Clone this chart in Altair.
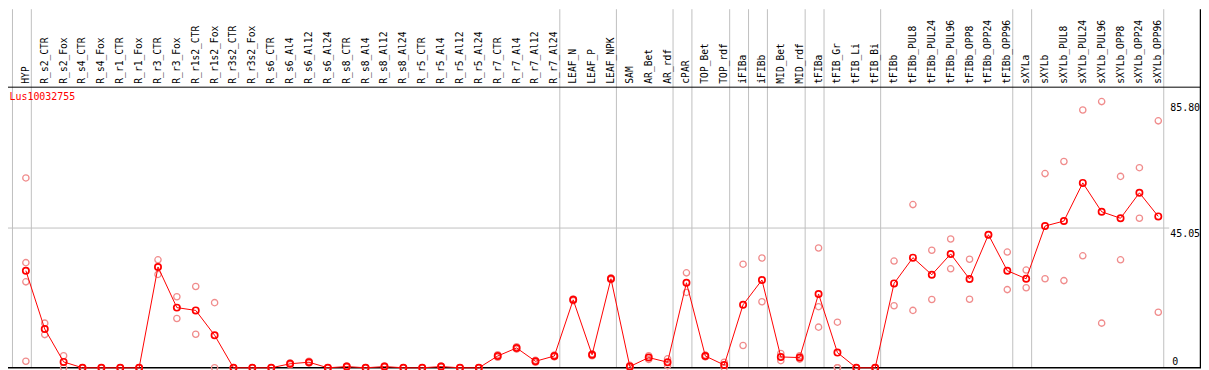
import altair as alt
import pandas as pd

# ---------------- data ----------------
categories = [
    "HYP", "R_s2_CTR", "R_s2_Fox", "R_s4_CTR", "R_s4_Fox", "R_r1_CTR", "R_r1_Fox",
    "R_r3_CTR", "R_r3_Fox", "R_r1s2_CTR", "R_r1s2_Fox", "R_r3s2_CTR", "R_r3s2_Fox",
    "R_s6_CTR", "R_s6_Al4", "R_s6_Al12", "R_s6_Al24", "R_s8_CTR", "R_s8_Al4",
    "R_s8_Al12", "R_s8_Al24", "R_r5_CTR", "R_r5_Al4", "R_r5_Al12", "R_r5_Al24",
    "R_r7_CTR", "R_r7_Al4", "R_r7_Al12", "R_r7_Al24", "LEAF_N", "LEAF_P", "LEAF_NPK",
    "SAM", "AR_Bet", "AR_rdf", "cPAR", "TOP_Bet", "TOP_rdf", "iFIBa", "iFIBb",
    "MID_Bet", "MID_rdf", "tFIBa", "tFIB_Gr", "tFIB_Li", "tFIB_Bi", "tFIBb",
    "tFIBb_PUL8", "tFIBb_PUL24", "tFIBb_PUL96", "tFIBb_OPP8", "tFIBb_OPP24",
    "tFIBb_OPP96", "sXYLa", "sXYLb", "sXYLb_PUL8", "sXYLb_PUL24", "sXYLb_PUL96",
    "sXYLb_OPP8", "sXYLb_OPP24", "sXYLb_OPP96",
]

means = [
    31.3, 12.5, 1.9, 0.0, 0.0, 0.0, 0.0,
    32.5, 19.4, 18.5, 10.5, 0.0, 0.0,
    0.0, 1.3, 1.8, 0.0, 0.4, 0.0,
    0.4, 0.0, 0.0, 0.4, 0.0, 0.0,
    3.8, 6.4, 2.1, 3.8, 21.9, 4.2, 28.7,
    0.4, 3.3, 1.8, 27.4, 3.8, 0.9, 20.3, 28.3,
    3.5, 3.3, 23.8, 4.9, 0.0, 0.0, 27.2,
    35.5, 30.0, 36.7, 28.6, 42.9,
    31.3, 28.7, 45.7, 47.3, 59.6, 50.3,
    48.2, 56.4, 48.8,
]

replicates = [
    [61.2, 33.9, 27.7, 2.1], [14.4, 10.7], [3.9, 0.0], [0.0, 0.0], [0.0, 0.0], [0.0, 0.0], [0.0, 0.0],
    [34.8, 30.1], [22.9, 15.9], [26.2, 10.8], [21.0, 0.0], [0.0, 0.0], [0.0, 0.0],
    [0.0, 0.0], [1.6, 1.0], [2.1, 1.5], [0.0, 0.0], [0.6, 0.2], [0.0, 0.0],
    [0.6, 0.2], [0.0, 0.0], [0.0, 0.0], [0.6, 0.2], [0.0, 0.0], [0.0, 0.0],
    [4.2, 3.4], [6.8, 6.0], [2.4, 1.8], [4.1, 3.5], [22.2, 21.6], [4.5, 3.9], [29.0, 28.4],
    [0.8, 0.0], [3.9, 2.7], [2.9, 0.7], [30.6, 24.3], [4.1, 3.5], [1.8, 0.0], [33.4, 7.2], [35.4, 21.3],
    [4.6, 2.3], [3.9, 2.8], [38.6, 19.7, 13.1], [14.7, 0.0, 0.0], [0.0, 0.0], [0.0, 0.0], [34.4, 20.0],
    [52.6, 18.5], [37.9, 22.0], [41.5, 31.9], [35.0, 22.1], [42.9],
    [37.3, 25.2], [31.5, 25.8], [62.6, 28.7], [66.5, 28.1], [83.1, 36.1], [85.8, 14.4],
    [61.7, 34.8], [64.5, 48.2], [79.6, 17.9],
]

# group separators: a line before the first category and after each of these
group_ends = ["HYP", "R_r7_Al24", "LEAF_NPK", "AR_rdf", "cPAR", "TOP_rdf", "iFIBa",
              "iFIBb", "MID_rdf", "tFIBa", "tFIB_Bi", "tFIBb_OPP96", "sXYLa", "sXYLb_OPP96"]

gene_id = "Lus10032755"
tick_values = [85.80, 45.05]
tick_labels = ["85.80", "45.05"]
zero_label = ["0"]
grid_values = [45.05]

# ---------------- layout ----------------
W, H = 1201, 362
X0, DX = 18.0, 19.0          # pixel of first category, pixel step
Y0, PXU = 361.0, 3.1232      # pixel of value 0, pixels per unit
SEP_OFF = 5.5 / DX

x_scale = alt.Scale(domain=[(0 - X0) / DX, (W - X0) / DX], nice=False, zero=False)
y_scale = alt.Scale(domain=[(Y0 - H) / PXU, Y0 / PXU], nice=False, zero=False)

FONT = "DejaVu Sans Mono"
RED = "#ff0000"
PINK = "#f08c8c"
GREY = "#c0c0c0"

idx = list(range(len(categories)))
df_mean = pd.DataFrame({"idx": idx, "cat": categories, "value": means})
rows = []
for i, reps in enumerate(replicates):
    for r in reps:
        rows.append({"idx": i, "cat": categories[i], "value": r})
df_rep = pd.DataFrame(rows)

sep_pos = [-1 + SEP_OFF] + [categories.index(c) + SEP_OFF for c in group_ends]
df_sep = pd.DataFrame({"pos": sep_pos})

X = lambda f="idx": alt.X(f"{f}:Q", scale=x_scale, axis=None)
Y = lambda f="value": alt.Y(f"{f}:Q", scale=y_scale, axis=None)

one = pd.DataFrame({"a": [0]})

vsep = alt.Chart(df_sep).mark_rule(color=GREY, strokeWidth=1).encode(
    x=X("pos"), y=alt.value(0), y2=alt.value(Y0)
)
hgrid = alt.Chart(pd.DataFrame({"value": grid_values})).mark_rule(color=GREY, strokeWidth=1).encode(
    y=Y(), x=alt.value(0), x2=alt.value(1169)
)
header_line = alt.Chart(one).mark_rule(color="black", strokeWidth=1).encode(
    y=alt.value(78.5), x=alt.value(0), x2=alt.value(W)
)
right_line = alt.Chart(one).mark_rule(color="black", strokeWidth=1.5).encode(
    x=alt.value(1200.5), y=alt.value(0), y2=alt.value(Y0)
)
bottom_line = alt.Chart(one).mark_rule(color="black", strokeWidth=1.5).encode(
    y=alt.value(Y0), x=alt.value(0), x2=alt.value(W)
)

cat_labels = alt.Chart(df_mean).mark_text(
    angle=270, align="left", baseline="middle", font=FONT, fontSize=9.7, color="black"
).encode(x=X(), y=alt.value(75), text="cat:N")

title = alt.Chart(pd.DataFrame({"t": [gene_id]})).mark_text(
    align="left", baseline="alphabetic", font=FONT, fontSize=10, color=RED
).encode(x=alt.value(1.5), y=alt.value(91.5), text="t:N")

ticks = alt.Chart(pd.DataFrame({"value": tick_values, "lab": tick_labels})).mark_text(
    align="left", baseline="top", font=FONT, fontSize=10, color="black", dy=1
).encode(x=alt.value(1170), y=Y(), text="lab:N")

zero_tick = alt.Chart(pd.DataFrame({"value": [0.0], "lab": zero_label})).mark_text(
    align="left", baseline="alphabetic", font=FONT, fontSize=10, color="black", dy=-3
).encode(x=alt.value(1172), y=Y(), text="lab:N")

rep_pts = alt.Chart(df_rep).mark_point(
    shape="circle", filled=False, color=PINK, size=40, strokeWidth=1.3, opacity=1
).encode(x=X(), y=Y())

mean_line = alt.Chart(df_mean).mark_line(color=RED, strokeWidth=1).encode(x=X(), y=Y())

mean_pts = alt.Chart(df_mean).mark_point(
    shape="circle", filled=False, color=RED, size=40, strokeWidth=1.7, opacity=1
).encode(x=X(), y=Y())

chart = alt.layer(
    vsep, hgrid, header_line, bottom_line, right_line,
    cat_labels, title, ticks, zero_tick,
    rep_pts, mean_line, mean_pts,
).properties(
    width=W, height=H, padding=0, autosize=alt.AutoSizeParams(type="none"),
    background="white"
).configure_view(stroke=None)

chart.save("out.html", embed_options={"renderer": "svg", "actions": False})
